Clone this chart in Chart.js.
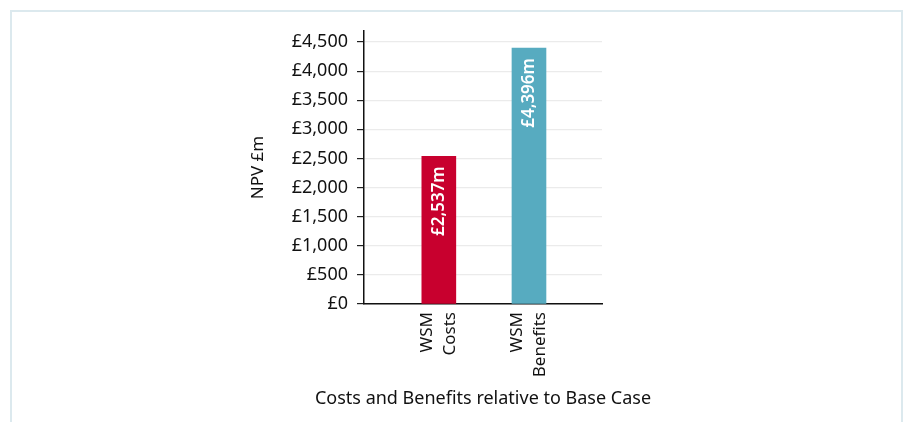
<!DOCTYPE html>
<html>
<head>
<meta charset="utf-8">
<script src="https://cdn.jsdelivr.net/npm/chart.js@4.4.0/dist/chart.umd.min.js"></script>
<style>
    html, body { margin: 0; padding: 0; background: #fff; }
    #frame {
        position: absolute; left: 10px; top: 10px;
        width: 889px; height: 430px;
        border: 2px solid #dce9ee; border-bottom: none;
    }
    #wrap { position: absolute; left: 0; top: 0; width: 906px; height: 422px; }
</style>
</head>
<body>
<div id="frame"></div>
<div id="wrap"><canvas id="npvChart"></canvas></div>
<script>
/* =====================
   Data
===================== */
const categories = [['WSM', 'Costs'], ['WSM', 'Benefits']];
const npvValues = [2537, 4396];
const barColours = ['#c8002e', '#57abc0'];
const yTicks = [0, 500, 1000, 1500, 2000, 2500, 3000, 3500, 4000, 4500];
const xTitle = 'Costs and Benefits relative to Base Case';

const FONT = '"Noto Sans", "Open Sans", sans-serif';
const TEXT = '#111';

function formatPounds(v) {
    return '£' + Number(v).toLocaleString('en-GB');
}

// value label written up the inside of each bar
const barLabels = {
    id: 'barLabels',
    afterDatasetsDraw(chart) {
        const ctx = chart.ctx;
        const meta = chart.getDatasetMeta(0);
        ctx.save();
        ctx.fillStyle = '#fff';
        ctx.font = '600 17px ' + FONT;
        ctx.textAlign = 'right';
        ctx.textBaseline = 'middle';
        meta.data.forEach((bar, i) => {
            ctx.save();
            ctx.translate(bar.x, bar.y + 10);
            ctx.rotate(-Math.PI / 2);
            ctx.fillText(formatPounds(npvValues[i]) + 'm', 0, 0);
            ctx.restore();
        });
        ctx.restore();
    }
};

// x axis title is wider than the plot, so the scale title would squash it
const xAxisTitle = {
    id: 'xAxisTitle',
    afterDraw(chart) {
        const ctx = chart.ctx;
        const x = chart.scales.x;
        ctx.save();
        ctx.fillStyle = TEXT;
        ctx.font = '18px ' + FONT;
        ctx.textAlign = 'center';
        ctx.textBaseline = 'middle';
        ctx.fillText(xTitle, (x.left + x.right) / 2, x.bottom - 9);
        ctx.restore();
    }
};

new Chart(document.getElementById('npvChart'), {
    type: 'bar',
    data: {
        labels: categories,
        datasets: [{
            data: npvValues,
            backgroundColor: barColours,
            borderWidth: 0,
            barThickness: 34
        }]
    },
    plugins: [barLabels, xAxisTitle],
    options: {
        responsive: true,
        maintainAspectRatio: false,
        animation: false,
        layout: { padding: { left: 234, right: 304, top: 31, bottom: 14 } },
        plugins: {
            legend: { display: false },
            tooltip: { enabled: false }
        },
        scales: {
            x: {
                offset: true,
                // spread the two bars across the axis, leaving room at each end
                afterBuildTicks(scale) {
                    scale._startValue = -0.83;
                    scale._valueRange = 2.64;
                },
                afterFit(scale) { scale.height = 104; },
                grid: { drawOnChartArea: false, drawTicks: false },
                border: { color: '#111', width: 1.5 },
                ticks: {
                    minRotation: 90,
                    maxRotation: 90,
                    autoSkip: false,
                    padding: 8,
                    labelOffset: -11.5,
                    color: TEXT,
                    font: { family: FONT, size: 17, lineHeight: 1.35 }
                }
            },
            y: {
                min: 0,
                max: 4690,
                afterBuildTicks(scale) {
                    scale.ticks = yTicks.map(v => ({ value: v }));
                },
                afterFit(scale) { scale.width = 130; },
                grid: { color: '#ebebeb', tickColor: '#222', tickLength: 7, lineWidth: 1.2 },
                border: { color: '#111', width: 1.5 },
                ticks: {
                    padding: 9,
                    color: TEXT,
                    font: { family: FONT, size: 18 },
                    callback: v => formatPounds(v)
                },
                title: {
                    display: true,
                    text: 'NPV £m',
                    color: TEXT,
                    font: { family: FONT, size: 17 },
                    padding: { top: 14, bottom: 0 }
                }
            }
        }
    }
});
</script>
</body>
</html>
